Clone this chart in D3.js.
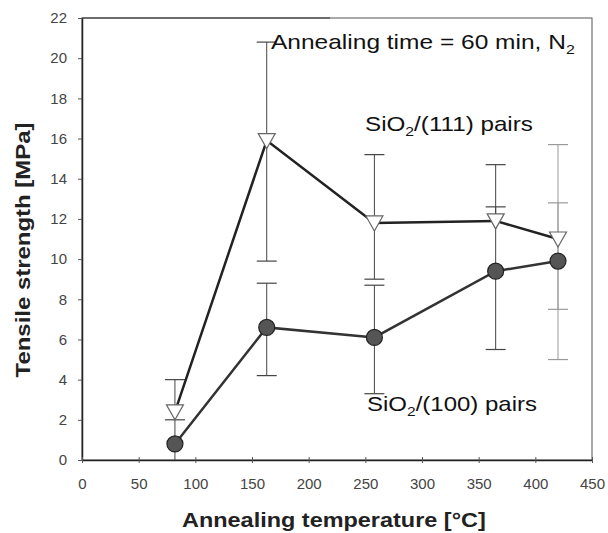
<!DOCTYPE html>
<html>
<head>
<meta charset="utf-8">
<script src="https://cdn.jsdelivr.net/npm/d3@7"></script>
<style>
  body { margin: 0; background: #fff; }
  svg { font-family: "Liberation Sans", Arial, sans-serif; }
</style>
</head>
<body>
<div id="chart"></div>
<script>
// annealing temperature [°C]
var temps = [82, 163, 258, 365, 420];
// SiO2/(111) pairs (triangles)
var s111 = [2.4, 15.9, 11.8, 11.9, 11.0];
var s111Low = [null, 9.9, 9.0, null, 7.5];
var s111High = [4.0, 20.8, 15.2, 14.7, 15.7];
// SiO2/(100) pairs (circles)
var s100 = [0.8, 6.6, 6.1, 9.4, 9.9];
var s100Low = [0.0, 4.2, 3.3, 5.5, 5.0];
var s100High = [2.0, 8.8, 8.7, 12.6, 12.8];

var xTicks = [0, 50, 100, 150, 200, 250, 300, 350, 400, 450];
var yTicks = [0, 2, 4, 6, 8, 10, 12, 14, 16, 18, 20, 22];

var svg = d3.select('#chart').append('svg')
    .attr('width', 608)
    .attr('height', 533);

var pLeft = 82, pRight = 592, pTop = 18, pBottom = 460;

var x = d3.scaleLinear().domain([0, 450]).range([pLeft, pRight]);
var y = d3.scaleLinear().domain([0, 22]).range([pBottom, pTop]);

// frame
svg.append('rect')
    .attr('x', pLeft).attr('y', pTop)
    .attr('width', pRight - pLeft).attr('height', pBottom - pTop)
    .attr('fill', 'none').attr('stroke', '#555').attr('stroke-width', 1);
svg.append('line').attr('x1', pLeft).attr('x2', 330).attr('y1', pTop).attr('y2', pTop)
    .attr('stroke', '#333').attr('stroke-width', 1.2);

// axes
var yAxis = d3.axisLeft(y).tickValues(yTicks).tickSize(4).tickPadding(11).tickSizeOuter(0);
var xAxis = d3.axisBottom(x).tickValues(xTicks).tickSize(4).tickPadding(14).tickSizeOuter(0);

var gy = svg.append('g').attr('transform', 'translate(' + pLeft + ',0)').call(yAxis);
var gx = svg.append('g').attr('transform', 'translate(0,' + pBottom + ')').call(xAxis);
gx.selectAll('.tick line').attr('y1', -3).attr('y2', 3);
[gx, gy].forEach(function(g) {
    g.select('.domain').attr('stroke', '#222').attr('stroke-width', 1.5);
    g.selectAll('.tick line').attr('stroke', '#555');
    g.selectAll('.tick text').attr('font-size', 15).attr('fill', '#444')
        .attr('font-family', '"Liberation Sans", Arial, sans-serif');
});

// error bars
function errBars(vals, low, high) {
    temps.forEach(function(t, i) {
        var lo = low[i], hi = high[i];
        if (hi == null) return;
        var c = (i == 4) ? '#999' : '#444';
        var from = lo == null ? vals[i] : lo;
        svg.append('line')
            .attr('x1', x(t)).attr('x2', x(t))
            .attr('y1', y(from)).attr('y2', y(hi))
            .attr('stroke', c).attr('stroke-width', 1);
        [lo, hi].forEach(function(v) {
            if (v == null || v == 0) return;
            svg.append('line')
                .attr('x1', x(t) - 10).attr('x2', x(t) + 10)
                .attr('y1', y(v)).attr('y2', y(v))
                .attr('stroke', c).attr('stroke-width', 1.2);
        });
    });
}
errBars(s111, s111Low, s111High);
errBars(s100, s100Low, s100High);

var line = function(vals) {
    return d3.line().x(function(d, i) { return x(temps[i]); })
        .y(function(d) { return y(d); })(vals);
};

svg.append('path').attr('d', line(s111))
    .attr('fill', 'none').attr('stroke', '#222').attr('stroke-width', 2.5);
svg.append('path').attr('d', line(s100))
    .attr('fill', 'none').attr('stroke', '#333').attr('stroke-width', 2.5);

// triangle markers
svg.selectAll('.tri').data(s111).enter().append('path')
    .attr('class', 'tri')
    .attr('d', function(d, i) {
        var cx = x(temps[i]), cy = y(d);
        return 'M' + (cx - 8.5) + ',' + (cy - 7) + 'L' + (cx + 8.5) + ',' + (cy - 7) + 'L' + cx + ',' + (cy + 8) + 'Z';
    })
    .attr('fill', '#fff').attr('stroke', '#666').attr('stroke-width', 1.2);

// circle markers
svg.selectAll('.dot').data(s100).enter().append('circle')
    .attr('class', 'dot')
    .attr('cx', function(d, i) { return x(temps[i]); })
    .attr('cy', function(d) { return y(d); })
    .attr('r', 8)
    .attr('fill', '#555').attr('stroke', '#222').attr('stroke-width', 1.2);

// stretch a text horizontally so it spans the given width
function fit(t, x0, y0, w, rot) {
    var len = t.node().getComputedTextLength();
    var k = w / len;
    t.attr('x', 0).attr('y', 0)
        .attr('transform', 'translate(' + x0 + ',' + y0 + ')' + (rot ? ' rotate(-90)' : '') + ' scale(' + k + ',1)');
}

// annotations
function sub(main, subs, after) {
    var t = svg.append('text').attr('font-size', 20).attr('fill', '#111');
    t.append('tspan').text(main);
    t.append('tspan').text(subs).attr('font-size', 13).attr('dy', 5);
    if (after) t.append('tspan').text(after).attr('dy', -5);
    return t;
}
fit(sub('Annealing time = 60 min, N', '2', null), 271, 49, 304);
fit(sub('SiO', '2', '/(111) pairs'), 365, 131, 168);
fit(sub('SiO', '2', '/(100) pairs'), 367, 411, 170);

// axis titles
var xt = svg.append('text')
    .attr('font-size', 20).attr('font-weight', 'bold').attr('fill', '#222')
    .text('Annealing temperature [°C]');
fit(xt, 182, 527, 304);

var yt = svg.append('text')
    .attr('text-anchor', 'middle')
    .attr('font-size', 20).attr('font-weight', 'bold').attr('fill', '#222')
    .text('Tensile strength [MPa]');
fit(yt, 30, 250, 255, true);
</script>
</body>
</html>
